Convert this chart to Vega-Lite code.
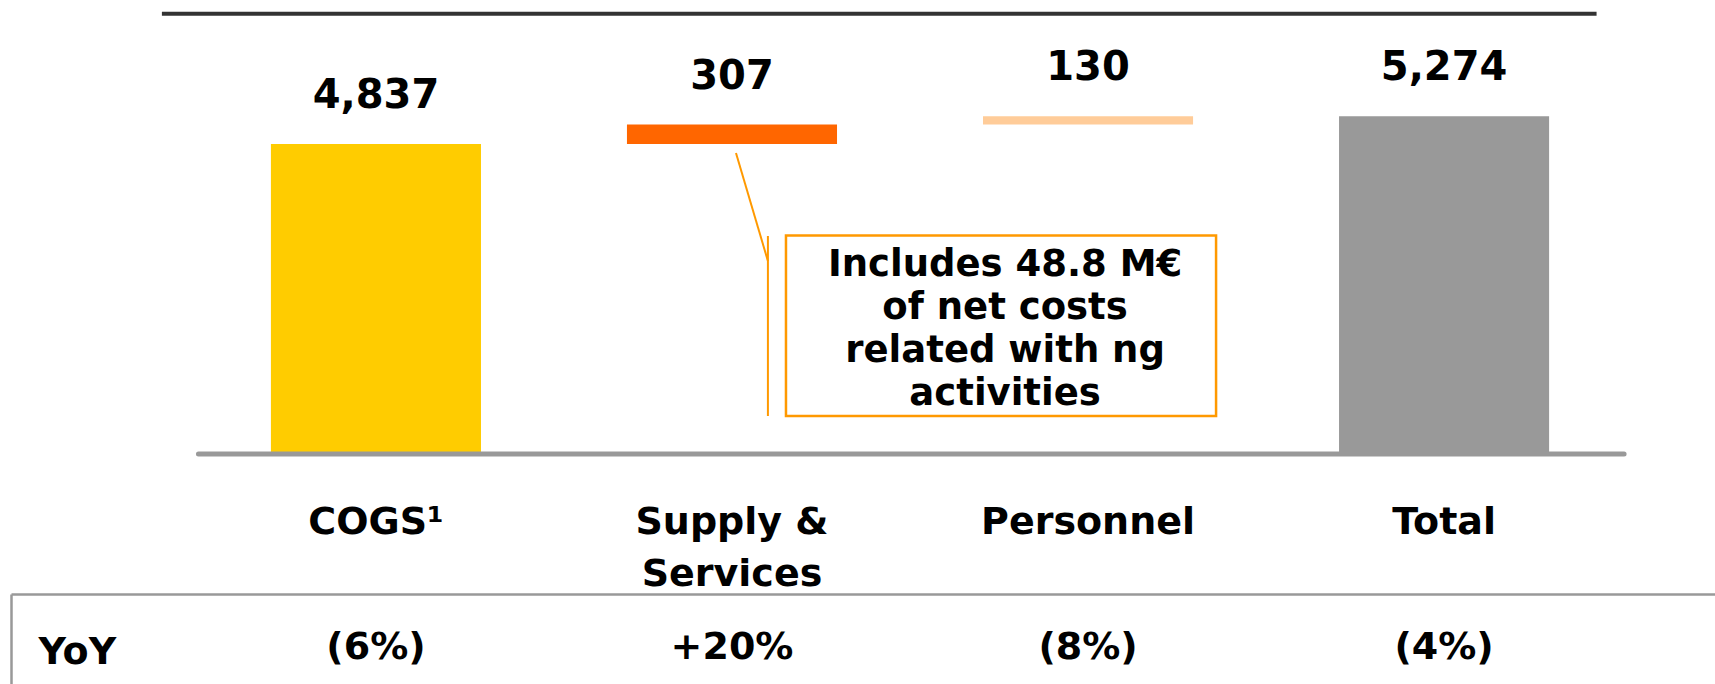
{
  "$schema": "https://vega.github.io/schema/vega-lite/v6.json",
  "background": "white",
  "padding": {"left": 11, "top": 0, "right": 0, "bottom": 0},
  "spacing": 1,
  "config": {"view": {"stroke": null}, "font": "DejaVu Sans", "axis": {"grid": false}},
  "datasets": {
    "costs": [
      {"category": "COGS¹", "start": 0, "end": 4837, "value": 4837, "yoy": "(6%)", "row": "YoY"},
      {"category": "Supply & Services", "start": 4837, "end": 5144, "value": 307, "yoy": "+20%", "row": "YoY"},
      {"category": "Personnel", "start": 5144, "end": 5274, "value": 130, "yoy": "(8%)", "row": "YoY"},
      {"category": "Total", "start": 0, "end": 5274, "value": 5274, "yoy": "(4%)", "row": "YoY"}
    ],
    "note": [{"text": "Includes 48.8 M€\nof net costs\nrelated with ng\nactivities"}],
    "anchor": [{"id": 1}]
  },
  "vconcat": [
    {
      "width": 1704,
      "height": 452,
      "layer": [
        {
          "data": {"name": "costs"},
          "mark": {"type": "bar"},
          "encoding": {
            "x": {
              "field": "category", "type": "nominal", "sort": null, "title": null,
              "scale": {"type": "band", "domain": ["COGS¹", "Supply & Services", "Personnel", "Total"], "paddingInner": 0.41, "paddingOuter": 0.598, "align": 0.6104, "round": false},
              "axis": {"orient": "bottom", "domain": false, "ticks": false, "tickSize": 0, "labelPadding": 51, "labelFont": "DejaVu Sans", "labelFontSize": 38, "labelFontWeight": "bold", "labelColor": "#000000", "labelAngle": 0, "labelLimit": 0, "labelOverlap": false, "labelLineHeight": 52, "labelExpr": "datum.value == 'Supply & Services' ? ['Supply &', 'Services'] : datum.label", "title": null, "grid": false}
            },
            "y": {"field": "start", "type": "quantitative", "title": null, "scale": {"domain": [0, 7100], "nice": false, "zero": false}, "axis": null},
            "y2": {"field": "end"},
            "color": {"field": "category", "type": "nominal", "scale": {"domain": ["COGS¹", "Supply & Services", "Personnel", "Total"], "range": ["#FFCC00", "#FF6600", "#FFCC99", "#999999"]}, "legend": null}
          }
        },
        {
          "data": {"name": "costs"},
          "mark": {"type": "text", "baseline": "alphabetic", "align": "center", "dy": -36, "fontSize": 40, "fontWeight": "bold", "font": "DejaVu Sans", "color": "#000000"},
          "encoding": {
            "x": {"field": "category", "type": "nominal", "title": null},
            "y": {"field": "end", "type": "quantitative", "title": null},
            "text": {"field": "value", "type": "quantitative", "format": ","}
          }
        },
        {
          "data": {"name": "anchor"},
          "mark": {"type": "rule", "color": "#333333", "strokeWidth": 4},
          "encoding": {
            "x": {"datum": "COGS¹", "type": "nominal", "bandPosition": -0.519, "title": null},
            "x2": {"datum": "Total", "bandPosition": 1.226},
            "y": {"datum": 6885, "type": "quantitative", "title": null}
          }
        },
        {
          "data": {"name": "anchor"},
          "mark": {"type": "rule", "color": "#999999", "strokeWidth": 5, "strokeCap": "round"},
          "encoding": {
            "x": {"datum": "COGS¹", "type": "nominal", "bandPosition": -0.345, "title": null},
            "x2": {"datum": "Total", "bandPosition": 1.357},
            "y": {"datum": -31, "type": "quantitative", "title": null}
          }
        },
        {
          "data": {"name": "anchor"},
          "mark": {"type": "rect", "fill": "#FFFFFF", "stroke": "#FF9900", "strokeWidth": 2.5},
          "encoding": {
            "x": {"datum": "Supply & Services", "type": "nominal", "bandPosition": 0.757, "title": null},
            "x2": {"datum": "Personnel", "bandPosition": 1.1095},
            "y": {"datum": 3401, "type": "quantitative", "title": null},
            "y2": {"datum": 565}
          }
        },
        {
          "data": {"name": "note"},
          "mark": {"type": "text", "lineBreak": "\n", "lineHeight": 43, "fontSize": 37, "fontWeight": "bold", "font": "DejaVu Sans", "align": "center", "baseline": "middle", "color": "#000000"},
          "encoding": {
            "x": {"datum": "Supply & Services", "type": "nominal", "bandPosition": 1.8, "title": null},
            "y": {"datum": 2937, "type": "quantitative", "title": null},
            "text": {"field": "text", "type": "nominal"}
          }
        },
        {
          "data": {"name": "anchor"},
          "mark": {"type": "rule", "color": "#FF9900", "strokeWidth": 2},
          "encoding": {
            "x": {"datum": "Supply & Services", "type": "nominal", "bandPosition": 0.519, "title": null},
            "x2": {"datum": "Supply & Services", "bandPosition": 0.671},
            "y": {"datum": 4697, "type": "quantitative", "title": null},
            "y2": {"datum": 3000}
          }
        },
        {
          "data": {"name": "anchor"},
          "mark": {"type": "rule", "color": "#FF9900", "strokeWidth": 2},
          "encoding": {
            "x": {"datum": "Supply & Services", "type": "nominal", "bandPosition": 0.671, "title": null},
            "y": {"datum": 3393, "type": "quantitative", "title": null},
            "y2": {"datum": 565}
          }
        }
      ]
    },
    {
      "width": 1704,
      "height": 90,
      "data": {"name": "costs"},
      "mark": {"type": "text", "fontSize": 38, "fontWeight": "bold", "font": "DejaVu Sans", "align": "center", "baseline": "middle", "color": "#000000", "dy": -5},
      "encoding": {
        "x": {
          "field": "category", "type": "nominal", "sort": null, "title": null,
          "scale": {"type": "band", "domain": ["COGS¹", "Supply & Services", "Personnel", "Total"], "paddingInner": 0.41, "paddingOuter": 0.598, "align": 0.6104, "round": false},
          "axis": {"orient": "top", "domain": true, "domainColor": "#999999", "domainWidth": 2.5, "labels": false, "ticks": false, "grid": false, "title": null}
        },
        "y": {
          "field": "row", "type": "nominal", "title": null,
          "scale": {"type": "band", "paddingInner": 0, "paddingOuter": 0.5, "align": 0.811},
          "axis": {"orient": "left", "domain": true, "domainColor": "#999999", "domainWidth": 2.5, "ticks": false, "tickSize": 0, "labelAlign": "left", "labelPadding": -27, "labelFont": "DejaVu Sans", "labelFontSize": 38, "labelFontWeight": "bold", "labelColor": "#000000", "title": null, "grid": false}
        },
        "text": {"field": "yoy", "type": "nominal"}
      }
    }
  ]
}
